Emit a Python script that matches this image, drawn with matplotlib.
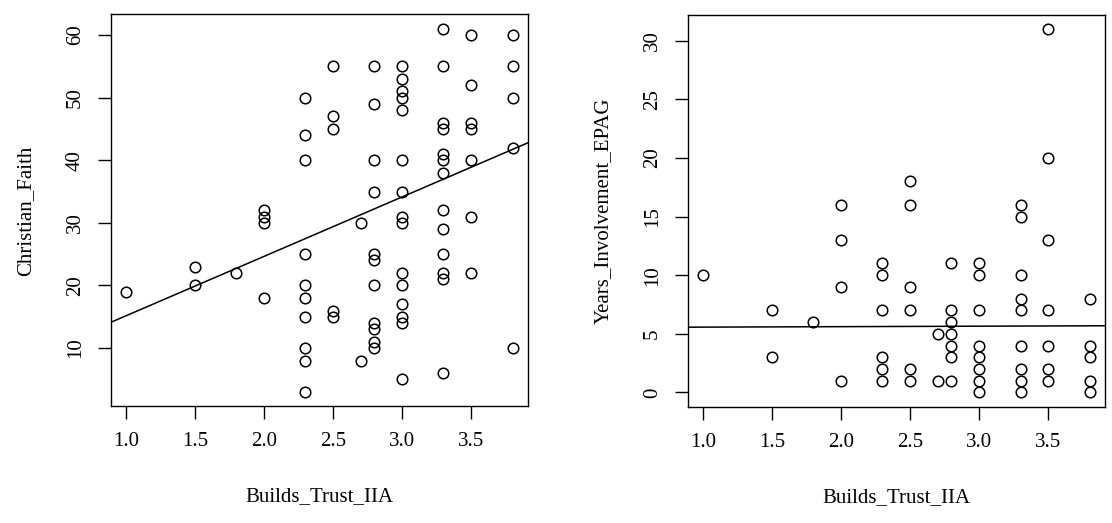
import matplotlib.pyplot as plt
import numpy as np

plt.rcParams['font.family'] = ['Liberation Serif', 'DejaVu Serif']
plt.rcParams['font.size'] = 15

# Builds_Trust_IIA vs Christian_Faith
trust_a = [1.0,
           1.5, 1.5,
           1.8,
           2.0, 2.0, 2.0, 2.0,
           2.3, 2.3, 2.3, 2.3, 2.3, 2.3, 2.3, 2.3, 2.3, 2.3,
           2.5, 2.5, 2.5, 2.5, 2.5,
           2.7, 2.7,
           2.8, 2.8, 2.8, 2.8, 2.8, 2.8, 2.8, 2.8, 2.8, 2.8, 2.8,
           3.0, 3.0, 3.0, 3.0, 3.0, 3.0, 3.0, 3.0, 3.0, 3.0, 3.0, 3.0, 3.0, 3.0, 3.0,
           3.3, 3.3, 3.3, 3.3, 3.3, 3.3, 3.3, 3.3, 3.3, 3.3, 3.3, 3.3, 3.3,
           3.5, 3.5, 3.5, 3.5, 3.5, 3.5, 3.5,
           3.8, 3.8, 3.8, 3.8, 3.8]
faith = [19,
         23, 20,
         22,
         32, 31, 30, 18,
         50, 44, 40, 25, 20, 18, 15, 10, 8, 3,
         55, 47, 45, 16, 15,
         30, 8,
         55, 49, 40, 35, 25, 24, 20, 14, 13, 11, 10,
         55, 53, 51, 50, 48, 40, 35, 31, 30, 22, 20, 17, 15, 14, 5,
         61, 55, 46, 45, 41, 40, 38, 32, 29, 25, 22, 21, 6,
         60, 52, 46, 45, 40, 31, 22,
         60, 55, 50, 42, 10]
faith_fit = (5.67, 9.49)  # intercept, slope

# Builds_Trust_IIA vs Years_Involvement_EPAG
trust_b = [1.0,
           1.5, 1.5,
           1.8,
           2.0, 2.0, 2.0, 2.0,
           2.3, 2.3, 2.3, 2.3, 2.3, 2.3,
           2.5, 2.5, 2.5, 2.5, 2.5, 2.5,
           2.7, 2.7,
           2.8, 2.8, 2.8, 2.8, 2.8, 2.8, 2.8,
           3.0, 3.0, 3.0, 3.0, 3.0, 3.0, 3.0, 3.0,
           3.3, 3.3, 3.3, 3.3, 3.3, 3.3, 3.3, 3.3, 3.3,
           3.5, 3.5, 3.5, 3.5, 3.5, 3.5, 3.5,
           3.8, 3.8, 3.8, 3.8, 3.8]
years = [10,
         7, 3,
         6,
         16, 13, 9, 1,
         11, 10, 7, 3, 2, 1,
         18, 16, 9, 7, 2, 1,
         5, 1,
         11, 7, 6, 5, 4, 3, 1,
         11, 10, 7, 4, 3, 2, 1, 0,
         16, 15, 10, 8, 7, 4, 2, 1, 0,
         31, 20, 13, 7, 4, 2, 1,
         8, 4, 3, 1, 0]
years_fit = (5.53, 0.04)

fig = plt.figure(figsize=(11.12, 5.23), dpi=100)
ax1 = fig.add_axes([0.0994, 0.2228, 0.3754, 0.750])
ax2 = fig.add_axes([0.6183, 0.2219, 0.3754, 0.7503])


def rplot(ax, x, y, fit, ylabel, yticks):
    x = np.asarray(x)
    y = np.asarray(y)
    ax.plot(x, y, 'o', mfc='none', mec='black', ms=7.6, mew=1.1)
    xr = x.max() - x.min()
    yr = y.max() - y.min()
    xlim = (x.min() - 0.04 * xr, x.max() + 0.04 * xr)
    ax.set_xlim(xlim)
    ax.set_ylim(y.min() - 0.04 * yr, y.max() + 0.04 * yr)
    xx = np.array(xlim)
    ax.plot(xx, fit[0] + fit[1] * xx, color='black', lw=1.1)
    ax.set_xticks([1.0, 1.5, 2.0, 2.5, 3.0, 3.5])
    ax.set_xticklabels(['1.0', '1.5', '2.0', '2.5', '3.0', '3.5'])
    ax.set_yticks(yticks)
    ax.set_yticklabels([str(t) for t in yticks], rotation=90, va='center')
    ax.tick_params(length=9.4, width=1.0, direction='out', labelsize=15)
    ax.tick_params(axis='x', pad=9)
    ax.tick_params(axis='y', pad=9)
    for s in ax.spines.values():
        s.set_linewidth(1.0)
    ax.set_xlabel('Builds_Trust_IIA', fontsize=15, labelpad=26)
    ax.set_ylabel(ylabel, fontsize=15, labelpad=22)


rplot(ax1, trust_a, faith, faith_fit, 'Christian_Faith', [10, 20, 30, 40, 50, 60])
rplot(ax2, trust_b, years, years_fit, 'Years_Involvement_EPAG', [0, 5, 10, 15, 20, 25, 30])

fig.savefig('out.png', dpi=100)
